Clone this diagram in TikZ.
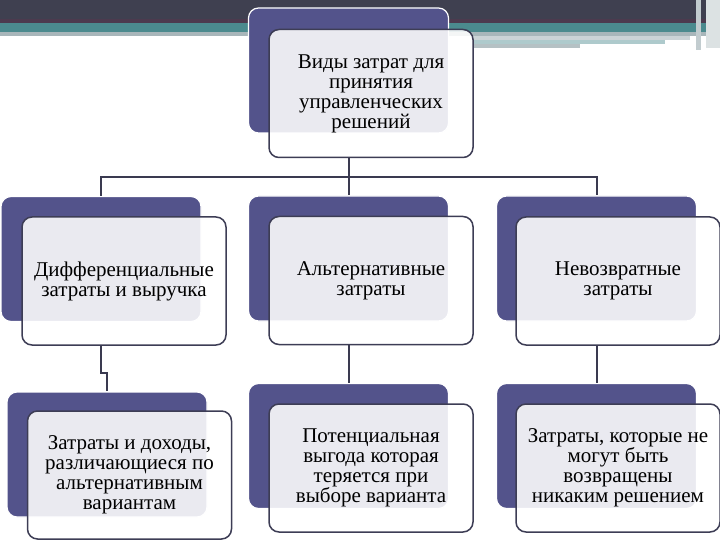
\documentclass[tikz,border=0pt]{standalone}
\usepackage{fontspec}
\setmainfont{Liberation Serif}
\definecolor{bandDark}{HTML}{3F4050}
\definecolor{bandTeal}{HTML}{4B8A8E}
\definecolor{bandGrey}{HTML}{A8B6BA}
\definecolor{backFill}{HTML}{53538B}
\definecolor{edgeDark}{HTML}{3D3D55}
\definecolor{linkDark}{HTML}{3A3A50}

\begin{document}
\begin{tikzpicture}[x=1pt,y=-1pt,
		backbox/.style={draw=white,line width=1.2pt,fill=backFill,rounded corners=10pt,
			minimum width=200pt,minimum height=125pt,inner sep=0pt},
		frontbox/.style={draw=edgeDark,line width=1.5pt,fill=white,fill opacity=.88,text opacity=1,
			rounded corners=10pt,minimum width=204pt,minimum height=128pt,inner sep=0pt,
			align=center,font=\fontsize{21}{20}\selectfont},
		link/.style={draw=linkDark,line width=2pt}]
		\useasboundingbox(0,0)rectangle(720,540);
		% top band
		\fill[bandDark](0,0)rectangle(720,23);
		\fill[bandDark!90!purple](0,19)rectangle(720,23);
		\fill[bandTeal](0,23)rectangle(720,32);
		\fill[bandGrey](0,32)rectangle(720,36);
		\fill[bandGrey!60](473,36)rectangle(690,40);
		\fill[bandTeal!45](473,40)rectangle(665,44);
		\fill[bandGrey!85](473,44)rectangle(580,48);
		\fill[bandGrey!70](696,0)rectangle(701,50);
		\fill[bandGrey!40](706,0)rectangle(720,48);
		% boxes
		\node[backbox](topback)at(348.5,70.5){};
		\node[frontbox](top)at(371,93.5){Виды затрат для\\принятия\\управленческих\\решений};
		\node[backbox](diffback)at(101,259){};
		\node[frontbox](diff)at(124,281){Дифференциальные\\затраты и выручка};
		\node[backbox](altback)at(348.5,258.5){};
		\node[frontbox](alt)at(371,280.5){Альтернативные\\затраты};
		\node[backbox](sunkback)at(596.5,258.5){};
		\node[frontbox](sunk)at(618,281){Невозвратные\\затраты};
		\node[backbox](relback)at(107,454.5){};
		\node[frontbox](rel)at(129.5,475){Затраты и доходы,\\различающиеся по\\альтернативным\\вариантам};
		\node[backbox](oppback)at(348.5,446){};
		\node[frontbox](opp)at(371,468){Потенциальная\\выгода которая\\теряется при\\выборе варианта};
		\node[backbox](lostback)at(596.5,446){};
		\node[frontbox](lost)at(618,468){Затраты, которые не\\могут быть\\возвращены\\никаким решением};
		% links
		\coordinate(bar)at(348.5,177);
		\draw[link](topback|-top.south)--(bar);
		\draw[link](bar)-|(diffback.north);
		\draw[link](bar)--(altback.north);
		\draw[link](bar)-|(sunkback.north);
		\draw[link](diffback|-diff.south)--++(0,27)-|(relback.north);
		\draw[link](altback|-alt.south)--(oppback.north);
		\draw[link](sunkback|-sunk.south)--(lostback.north);
	\end{tikzpicture}
\end{document}
